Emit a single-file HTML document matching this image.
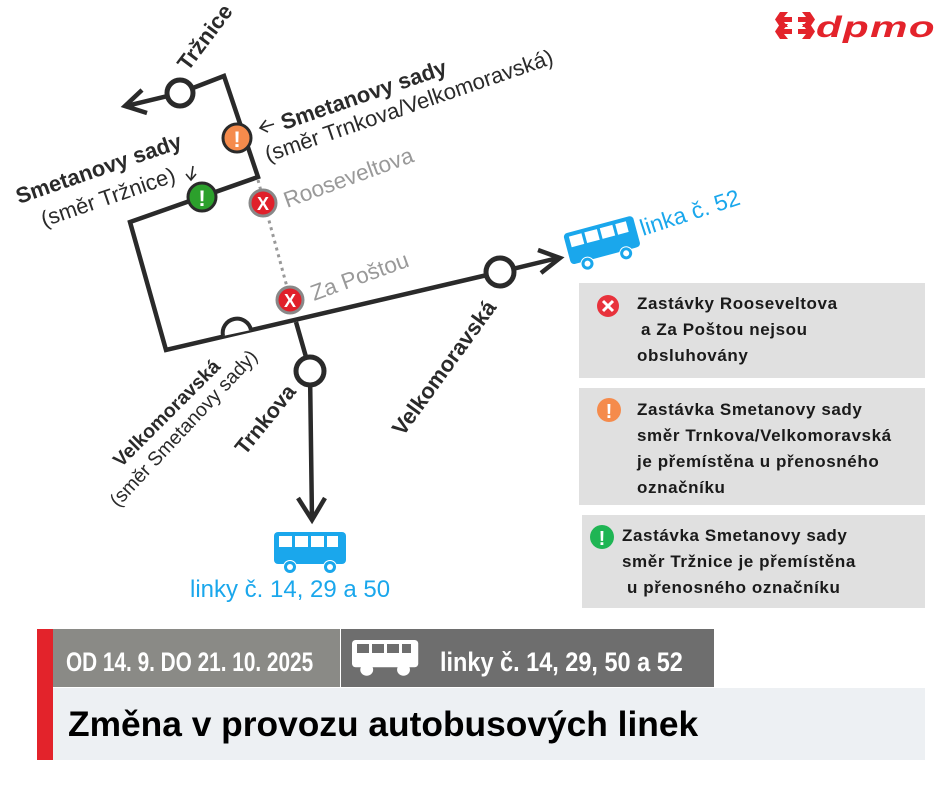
<!DOCTYPE html>
<html><head><meta charset="utf-8"><style>
html,body{margin:0;padding:0;background:#fff}
svg{display:block}
text{font-family:"Liberation Sans",sans-serif}
</style></head><body>
<svg width="940" height="788" viewBox="0 0 940 788" xmlns="http://www.w3.org/2000/svg">
<defs>
<g id="bus">
<rect x="0" y="0" width="72" height="32" rx="4" fill="currentColor"/>
<rect x="5" y="4" width="13" height="11" fill="#fff"/>
<rect x="21" y="4" width="13" height="11" fill="#fff"/>
<rect x="37" y="4" width="13" height="11" fill="#fff"/>
<rect x="53" y="4" width="11" height="11" fill="#fff"/>
<circle cx="16" cy="35" r="7" fill="#fff"/><circle cx="16" cy="35" r="6" fill="currentColor"/><circle cx="16" cy="35" r="3" fill="#fff"/>
<circle cx="56" cy="35" r="7" fill="#fff"/><circle cx="56" cy="35" r="6" fill="currentColor"/><circle cx="56" cy="35" r="3" fill="#fff"/>
</g>
</defs>

<!-- logo -->
<g fill="#e3232b">
<path d="M780 12 l8 0 -4 5 8 0 0 5 -8 0 4 5 -8 0 -5 -7.5z"/>
<path d="M780 24 l8 0 -4 5 8 0 0 5 -8 0 4 5 -8 0 -5 -7.5z"/>
<path d="M810 12 l-8 0 4 5 -8 0 0 5 8 0 -4 5 8 0 5 -7.5z"/>
<path d="M810 24 l-8 0 4 5 -8 0 0 5 8 0 -4 5 8 0 5 -7.5z"/>
</g>
<text x="0" y="0" font-size="30" font-weight="bold" font-style="italic" fill="#e3232b" letter-spacing="1" transform="translate(816,37) scale(1.4,1)">dpmo</text>

<!-- grey dotted -->
<line x1="258" y1="180" x2="290" y2="298" stroke="#999" stroke-width="3" stroke-dasharray="3,4"/>

<!-- main route -->
<g fill="none" stroke="#2a2a2a" stroke-width="4.5" stroke-linejoin="miter">
<polyline points="180,93 224,76 258,177 130,222 166,350 500,272 558,258"/>
<polyline points="538,250 560,258 541,273"/>
<line x1="180" y1="93" x2="126" y2="106"/>
<polyline points="142,90 125,106 147,113"/>
<polyline points="296,322 310,371 312,520"/>
<polyline points="298,498 312,520 325,498"/>
</g>
<path d="M223 336 a14 14 0 0 1 28 -6" fill="#fff" stroke="#2a2a2a" stroke-width="4"/>
<circle cx="180" cy="93" r="13" fill="#fff" stroke="#2a2a2a" stroke-width="5"/>
<circle cx="310" cy="371" r="14" fill="#fff" stroke="#2a2a2a" stroke-width="5"/>
<circle cx="500" cy="272" r="14" fill="#fff" stroke="#2a2a2a" stroke-width="5"/>

<!-- markers -->
<circle cx="237" cy="138" r="14" fill="#f58b4c" stroke="#2a2a2a" stroke-width="3"/>
<text x="237" y="147" font-size="22" font-weight="bold" fill="#fff" text-anchor="middle">!</text>
<circle cx="202" cy="197" r="14" fill="#2ca02c" stroke="#2a2a2a" stroke-width="3"/>
<text x="202" y="206" font-size="22" font-weight="bold" fill="#fff" text-anchor="middle">!</text>
<circle cx="263" cy="203" r="13" fill="#e0202a" stroke="#888" stroke-width="3"/>
<text x="263" y="210" font-size="18" font-weight="bold" fill="#fff" text-anchor="middle">X</text>
<circle cx="290" cy="300" r="13" fill="#e0202a" stroke="#888" stroke-width="3"/>
<text x="290" y="307" font-size="18" font-weight="bold" fill="#fff" text-anchor="middle">X</text>

<!-- map labels -->
<g fill="#2a2a2a">
<text font-size="22" font-weight="bold" transform="translate(188,72) rotate(-53)">Tržnice</text>
<text font-size="22" font-weight="bold" transform="translate(284,130) rotate(-19)">Smetanovy sady</text>
<path d="M274 124 l-14 4 M266 120 l-6 8 8 4" fill="none" stroke="#2a2a2a" stroke-width="1.6"/>
<text font-size="22" transform="translate(268,162) rotate(-19)">(směr Trnkova/Velkomoravská)</text>
<text font-size="22" font-weight="bold" transform="translate(19,204) rotate(-19)">Smetanovy sady</text>
<text font-size="22" transform="translate(44,227) rotate(-19)">(směr Tržnice)</text>
<path d="M193 166 l-2 14 M186 174 l5 6 5 -6" fill="none" stroke="#2a2a2a" stroke-width="1.6"/>
<text font-size="19.5" font-weight="bold" transform="translate(121,468) rotate(-45)">Velkomoravská</text>
<text font-size="19.5" transform="translate(118,508) rotate(-47)">(směr Smetanovy sady)</text>
<text font-size="21.5" font-weight="bold" transform="translate(245,456) rotate(-51)">Trnkova</text>
<text font-size="22" font-weight="bold" transform="translate(403,437) rotate(-54)">Velkomoravská</text>
</g>
<text font-size="22.5" fill="#999" transform="translate(287,208) rotate(-20)">Rooseveltova</text>
<text font-size="22.5" fill="#999" transform="translate(314,301) rotate(-20)">Za Poštou</text>

<!-- buses -->
<g color="#1aa7ec"><use href="#bus" transform="translate(274,532)"/></g>
<g color="#1aa7ec"><use href="#bus" transform="translate(563,234) rotate(-15)"/></g>
<text x="190" y="597" font-size="24" fill="#1aa7ec">linky č. 14, 29 a 50</text>
<text font-size="23" fill="#1aa7ec" transform="translate(643,236) rotate(-18)">linka č. 52</text>

<!-- info boxes -->
<rect x="579" y="283" width="346" height="95" fill="#e0e0e0"/>
<rect x="579" y="388" width="346" height="117" fill="#e0e0e0"/>
<rect x="582" y="515" width="343" height="93" fill="#e0e0e0"/>
<circle cx="608" cy="306" r="11" fill="#e8323c"/>
<path d="M603 301 l10 10 M613 301 l-10 10" stroke="#fff" stroke-width="3"/>
<circle cx="609" cy="410" r="12" fill="#f58b4c"/>
<text x="609" y="418" font-size="20" font-weight="bold" fill="#fff" text-anchor="middle">!</text>
<circle cx="602" cy="537" r="12" fill="#1fb554"/>
<text x="602" y="545" font-size="20" font-weight="bold" fill="#fff" text-anchor="middle">!</text>
<g font-size="17" font-weight="bold" fill="#1a1a1a" letter-spacing="0.6">
<text x="637" y="309">Zastávky Rooseveltova</text>
<text x="641" y="335">a Za Poštou nejsou</text>
<text x="637" y="361">obsluhovány</text>
<text x="637" y="415">Zastávka Smetanovy sady</text>
<text x="637" y="441">směr Trnkova/Velkomoravská</text>
<text x="637" y="467">je přemístěna u přenosného</text>
<text x="637" y="493">označníku</text>
<text x="622" y="541">Zastávka Smetanovy sady</text>
<text x="622" y="567">směr Tržnice je přemístěna</text>
<text x="627" y="593">u přenosného označníku</text>
</g>

<!-- banner -->
<rect x="37" y="629" width="16" height="131" fill="#e3232b"/>
<rect x="53" y="629" width="287" height="58" fill="#8a8a86"/>
<rect x="341" y="629" width="373" height="58" fill="#6e6e6e"/>
<rect x="53" y="688" width="872" height="72" fill="#edf0f3"/>
<text x="0" y="0" font-size="27" font-weight="bold" fill="#fff" transform="translate(66,671) scale(0.77,1)">OD 14. 9. DO 21. 10. 2025</text>
<g color="#fff"><use href="#bus" transform="translate(352,640) scale(0.92,0.85)"/></g>
<rect x="357" y="644" width="12" height="9" fill="#6e6e6e"/>
<rect x="372" y="644" width="12" height="9" fill="#6e6e6e"/>
<rect x="387" y="644" width="12" height="9" fill="#6e6e6e"/>
<rect x="402" y="644" width="9" height="9" fill="#6e6e6e"/>
<text x="0" y="0" font-size="27" font-weight="bold" fill="#fff" transform="translate(440,671) scale(0.87,1)">linky č. 14, 29, 50 a 52</text>
<text x="0" y="0" font-size="35" font-weight="bold" fill="#000" transform="translate(68,736) scale(1.01,1)">Změna v provozu autobusových linek</text>
</svg>
</body></html>
